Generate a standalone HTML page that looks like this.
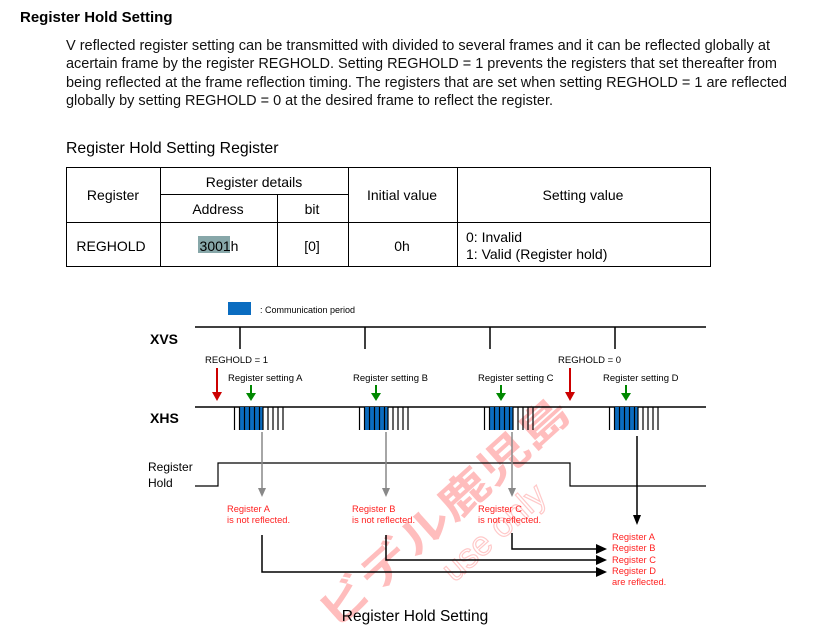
<!DOCTYPE html>
<html><head><meta charset="utf-8"><style>
html,body{margin:0;padding:0;background:#fff;width:815px;height:629px;overflow:hidden}
svg{display:block}
text{font-family:"Liberation Sans","Noto Sans CJK JP",sans-serif}
</style></head><body>
<svg width="815" height="629" viewBox="0 0 815 629" xmlns="http://www.w3.org/2000/svg">
<text x="20" y="22" font-size="15" font-weight="bold">Register Hold Setting</text>
<g font-size="14.3" fill="#111">
<text x="66" y="50" textLength="704" lengthAdjust="spacingAndGlyphs">V reflected register setting can be transmitted with divided to several frames and it can be reflected globally at</text>
<text x="66" y="68" textLength="711" lengthAdjust="spacingAndGlyphs">acertain frame by the register REGHOLD. Setting REGHOLD = 1 prevents the registers that set thereafter from</text>
<text x="66" y="87" textLength="721" lengthAdjust="spacingAndGlyphs">being reflected at the frame reflection timing. The registers that are set when setting REGHOLD = 1 are reflected</text>
<text x="66" y="105" textLength="487" lengthAdjust="spacingAndGlyphs">globally by setting REGHOLD = 0 at the desired frame to reflect the register.</text>
</g>
<text x="66" y="153" font-size="15.8">Register Hold Setting Register</text>
<g stroke="#000" stroke-width="1" fill="none">
<rect x="66.5" y="167.5" width="644" height="99"/>
<line x1="66" y1="222.5" x2="711" y2="222.5"/>
<line x1="160.5" y1="167" x2="160.5" y2="267"/>
<line x1="348.5" y1="167" x2="348.5" y2="267"/>
<line x1="457.5" y1="167" x2="457.5" y2="267"/>
<line x1="160" y1="194.5" x2="348" y2="194.5"/>
<line x1="277.5" y1="194" x2="277.5" y2="267"/>
</g>
<rect x="198" y="236" width="32" height="17" fill="#8fa98a"/>
<rect x="198" y="236" width="32" height="17" fill="#7fa6c8" opacity="0.5"/>
<g font-size="14" text-anchor="middle">
<text x="113" y="200">Register</text>
<text x="254" y="187">Register details</text>
<text x="218" y="214">Address</text>
<text x="312" y="214">bit</text>
<text x="402" y="200">Initial value</text>
<text x="583" y="200">Setting value</text>
<text x="111" y="251">REGHOLD</text>
<text x="219" y="251">3001h</text>
<text x="312" y="251">[0]</text>
<text x="402" y="251">0h</text>
</g>
<text x="466" y="242" font-size="14">0: Invalid</text>
<text x="466" y="259" font-size="14">1: Valid (Register hold)</text>
<g transform="translate(335,630) rotate(-42)" opacity="0.35">
<text x="0" y="0" font-size="42" fill="#f44" font-weight="bold" textLength="320" lengthAdjust="spacingAndGlyphs">ビデル鹿児島</text>
<text x="120" y="45" font-size="34" fill="none" stroke="#f66" stroke-width="1.2">use only</text>
</g>
<rect x="228" y="302" width="23" height="13" fill="#0a6cc0"/>
<text x="260" y="313" font-size="9">: Communication period</text>
<text x="150" y="344" font-size="14" font-weight="bold">XVS</text>
<text x="150" y="423" font-size="14" font-weight="bold">XHS</text>
<text x="148" y="471" font-size="12">Register</text>
<text x="148" y="487" font-size="12">Hold</text>
<g stroke="#000" stroke-width="1.5" fill="none">
<line x1="195" y1="327" x2="706" y2="327"/>
<line x1="240" y1="327" x2="240" y2="349"/>
<line x1="365" y1="327" x2="365" y2="349"/>
<line x1="490" y1="327" x2="490" y2="349"/>
<line x1="615" y1="327" x2="615" y2="349"/>
<line x1="195" y1="407" x2="706" y2="407"/>
<polyline points="195,486 218,486 218,463 570,463 570,486 706,486" stroke-width="1.2"/>
</g>
<g font-size="9.5">
<text x="205" y="363">REGHOLD = 1</text>
<text x="558" y="363">REGHOLD = 0</text>
<text x="228" y="381">Register setting A</text>
<text x="353" y="381">Register setting B</text>
<text x="478" y="381">Register setting C</text>
<text x="603" y="381">Register setting D</text>
</g>
<defs>
<g id="burst">
<rect x="5" y="0" width="24" height="23" fill="#0a6cc0"/>
<g stroke="#000" stroke-width="1.2">
<line x1="0.5" y1="0" x2="0.5" y2="23"/><line x1="5.5" y1="0" x2="5.5" y2="23"/>
<line x1="10.5" y1="0" x2="10.5" y2="23"/><line x1="15.5" y1="0" x2="15.5" y2="23"/>
<line x1="20.5" y1="0" x2="20.5" y2="23"/><line x1="25.5" y1="0" x2="25.5" y2="23"/>
<line x1="29" y1="0" x2="29" y2="23"/><line x1="34" y1="0" x2="34" y2="23"/>
<line x1="39" y1="0" x2="39" y2="23"/><line x1="44" y1="0" x2="44" y2="23"/>
<line x1="49" y1="0" x2="49" y2="23"/>
</g>
</g>
<g id="garrow"><line x1="0" y1="0" x2="0" y2="10" stroke="#080" stroke-width="2"/><polygon points="-5,8 5,8 0,16" fill="#080"/></g>
<g id="rarrow"><line x1="0" y1="0" x2="0" y2="26" stroke="#c00" stroke-width="2"/><polygon points="-5,24 5,24 0,33" fill="#c00"/></g>
</defs>
<use href="#burst" x="234" y="407"/>
<use href="#burst" x="359" y="407"/>
<use href="#burst" x="484" y="407"/>
<use href="#burst" x="609" y="407"/>
<use href="#garrow" x="251" y="385"/>
<use href="#garrow" x="376" y="385"/>
<use href="#garrow" x="501" y="385"/>
<use href="#garrow" x="626" y="385"/>
<use href="#rarrow" x="217" y="368"/>
<use href="#rarrow" x="570" y="368"/>
<g stroke="#888" stroke-width="1.5">
<line x1="262" y1="432" x2="262" y2="490"/><line x1="386" y1="432" x2="386" y2="490"/><line x1="512" y1="432" x2="512" y2="490"/>
</g>
<g fill="#888">
<polygon points="258,488 266,488 262,497"/><polygon points="382,488 390,488 386,497"/><polygon points="508,488 516,488 512,497"/>
</g>
<line x1="637" y1="436" x2="637" y2="517" stroke="#000" stroke-width="1.5"/>
<polygon points="633,515 641,515 637,525" fill="#000"/>
<g font-size="9.3" fill="#f22">
<text x="227" y="512">Register A</text><text x="227" y="523">is not reflected.</text>
<text x="352" y="512">Register B</text><text x="352" y="523">is not reflected.</text>
<text x="478" y="512">Register C</text><text x="478" y="523">is not reflected.</text>
<text x="612" y="540">Register A</text><text x="612" y="551">Register B</text>
<text x="612" y="563">Register C</text><text x="612" y="574">Register D</text>
<text x="612" y="585">are reflected.</text>
</g>
<g stroke="#000" stroke-width="1.5" fill="none">
<polyline points="262,535 262,572 598,572"/>
<polyline points="386,535 386,560 598,560"/>
<polyline points="512,533 512,549 598,549"/>
</g>
<g fill="#000">
<polygon points="596,544 607,549 596,554"/><polygon points="596,555 607,560 596,565"/><polygon points="596,567 607,572 596,577"/>
</g>
<text x="415" y="621" font-size="15.5" text-anchor="middle">Register Hold Setting</text>
</svg>
</body></html>
